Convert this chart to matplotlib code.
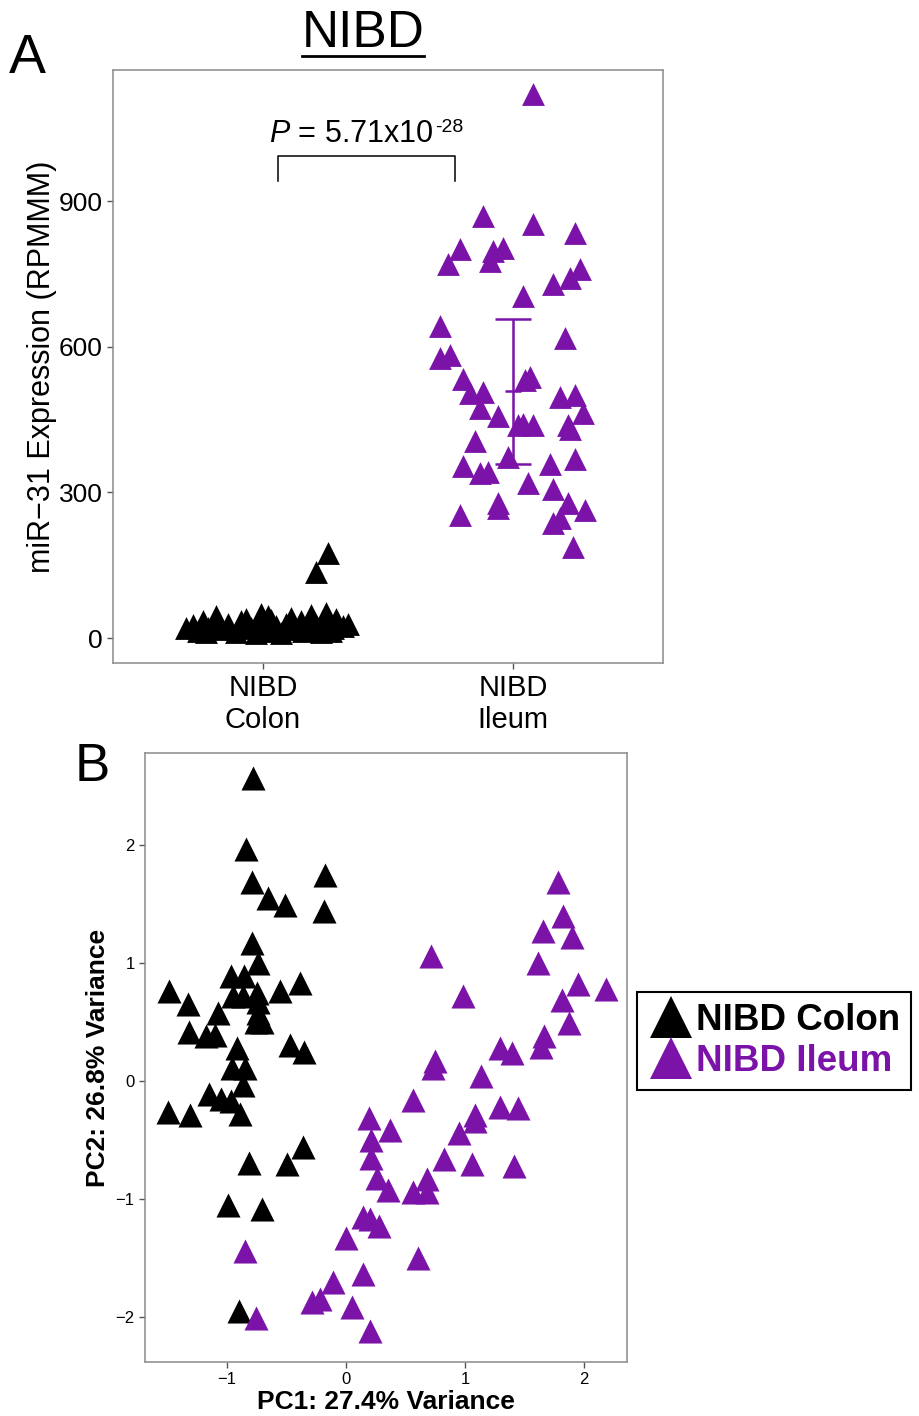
import numpy as np
import matplotlib
matplotlib.use('Agg')
import matplotlib.pyplot as plt
from matplotlib.lines import Line2D

plt.rcParams['font.family'] = ['Liberation Sans', 'DejaVu Sans']
plt.rcParams['mathtext.fontset'] = 'custom'
plt.rcParams['mathtext.rm'] = 'Liberation Sans'
plt.rcParams['mathtext.it'] = 'Liberation Sans:italic'

purple = '#7B13A9'

# Panel A: miR-31 expression per tissue (RPMMM)
groups = ['NIBD\nColon', 'NIBD\nIleum']
colon_jitter = [-0.31, -0.28, -0.26, -0.24, -0.22, -0.19, -0.17, -0.14, -0.11, -0.09,
                -0.07, -0.05, -0.02, 0.01, 0.03, 0.05, 0.07, 0.09, 0.11, 0.13,
                0.15, 0.17, 0.19, 0.21, 0.23, 0.25, 0.26, 0.28, 0.29, 0.32,
                0.34, -0.03, 0.02, 0.16, -0.09, -0.18, 0.10, 0.20, 0.27, -0.23,
                -0.01, 0.24, 0.21, 0.26]
colon_vals = [20, 28, 15, 35, 22, 45, 18, 30, 12, 25,
              40, 20, 33, 15, 38, 25, 10, 30, 42, 18,
              35, 22, 48, 28, 12, 52, 30, 20, 40, 25,
              30, 10, 45, 15, 35, 26, 22, 38, 15, 12,
              50, 35, 136, 175]
ileum_jitter = [0.08, -0.12, 0.08, 0.25, -0.21, -0.26, -0.08, -0.04, -0.09, 0.16,
                0.23, 0.27, 0.04, -0.29, 0.21, -0.29, -0.25, -0.20, -0.17, -0.12,
                -0.13, -0.06, 0.05, 0.07, 0.19, 0.25, 0.28, 0.22, 0.23, 0.02,
                0.04, 0.08, -0.15, -0.02, -0.20, -0.13, -0.10, 0.15, 0.25, 0.06,
                0.16, 0.22, 0.29, -0.06, -0.06, -0.21, 0.16, 0.19, 0.24]
ileum_vals = [1120, 869, 853, 834, 801, 770, 797, 803, 777, 730,
              742, 760, 705, 643, 618, 577, 583, 534, 505, 507,
              473, 458, 532, 538, 497, 501, 464, 438, 431, 438,
              442, 438, 405, 374, 355, 341, 343, 359, 368, 320,
              308, 279, 263, 279, 269, 253, 238, 247, 187]
ileum_mean = 508
ileum_sd = 150
bracket_x = [1.06, 1.77]
bracket_y = [941, 993]

# Panel B: PCA scores
colon_pc1 = [-0.78, -0.84, -0.18, -0.79, -0.66, -0.51, -0.19, -0.79, -0.74, -0.97,
             -0.86, -0.39, -1.49, -1.33, -0.95, -0.87, -0.75, -0.56, -0.74, -0.74,
             -1.08, -1.32, -1.18, -1.10, -0.76, -0.71, -0.92, -0.47, -0.35, -0.96,
             -0.85, -0.87, -1.15, -1.05, -0.97, -1.50, -1.31, -0.89, -0.36, -0.82,
             -0.50, -0.99, -0.71, -0.90]
colon_pc2 = [2.57, 1.97, 1.75, 1.69, 1.55, 1.49, 1.44, 1.17, 1.00, 0.89,
             0.89, 0.83, 0.76, 0.65, 0.72, 0.72, 0.75, 0.76, 0.67, 0.58,
             0.58, 0.42, 0.38, 0.39, 0.50, 0.50, 0.28, 0.31, 0.25, 0.11,
             0.11, -0.03, -0.11, -0.15, -0.17, -0.26, -0.29, -0.28, -0.56, -0.69,
             -0.70, -1.05, -1.08, -1.95]
ileum_pc1 = [-0.85, -0.76, 0.19, 0.37, 0.21, 0.21, 0.26, 0.35, 0.14, 0.20,
             0.28, 0.00, 0.14, -0.11, -0.29, -0.22, 0.05, 0.20, 1.78, 1.82,
             1.65, 1.90, 0.71, 1.61, 1.95, 2.18, 1.81, 0.98, 1.87, 1.66,
             1.64, 1.29, 1.39, 0.75, 0.73, 1.13, 0.56, 1.29, 1.44, 1.08,
             1.08, 0.95, 0.82, 1.06, 1.41, 0.56, 0.68, 0.68, 0.60]
ileum_pc2 = [-1.44, -2.01, -0.31, -0.41, -0.50, -0.65, -0.82, -0.92, -1.15, -1.17,
             -1.23, -1.33, -1.63, -1.70, -1.87, -1.85, -1.91, -2.12, 1.69, 1.40,
             1.27, 1.22, 1.06, 1.00, 0.82, 0.78, 0.69, 0.72, 0.49, 0.38,
             0.29, 0.28, 0.24, 0.17, 0.11, 0.04, -0.16, -0.22, -0.23, -0.29,
             -0.34, -0.44, -0.66, -0.70, -0.72, -0.94, -0.83, -0.94, -1.50]

fig = plt.figure(figsize=(9.19, 14.16), dpi=100)

# ---------- panel A ----------
axA = fig.add_axes([0.123, 0.5318, 0.5984, 0.4188])
axA.scatter(1 + np.array(colon_jitter), colon_vals, marker='^', s=270,
            color='black', linewidths=0, zorder=3)
axA.scatter(2 + np.array(ileum_jitter), ileum_vals, marker='^', s=270,
            color=purple, linewidths=0, zorder=3)
axA.errorbar(2, ileum_mean, yerr=ileum_sd, color=purple, capsize=13,
             capthick=1.8, elinewidth=1.8, zorder=4)
axA.plot(2, ileum_mean, marker='_', ms=12, mew=1.8, color=purple, zorder=4)

axA.plot([bracket_x[0], bracket_x[0], bracket_x[1], bracket_x[1]],
         [bracket_y[0], bracket_y[1], bracket_y[1], bracket_y[0]],
         color='black', lw=1.1)
ptxt = axA.text(np.mean(bracket_x) - 0.06, bracket_y[1] + 14, r'$P$ = 5.71x10',
                ha='center', va='bottom', fontsize=22)

axA.set_xlim(0.4, 2.6)
axA.set_ylim(-51, 1170)
axA.set_xticks([1, 2])
axA.set_xticklabels(groups, fontsize=21)
axA.set_yticks([0, 300, 600, 900])
axA.tick_params(axis='both', labelsize=19, length=4, color='#555555', width=1)
axA.tick_params(axis='x', labelsize=21, pad=4)
axA.set_ylabel('miR\u221231 Expression (RPMMM)', fontsize=22, labelpad=1)
for sp in axA.spines.values():
    sp.set_color('#8a8a8a')
    sp.set_linewidth(1.1)

t = fig.text(0.395, 0.976, 'NIBD', fontsize=37, ha='center', va='center')
fig.text(0.03, 0.958, 'A', fontsize=40, ha='center', va='center')
fig.text(0.1, 0.458, 'B', fontsize=38, ha='center', va='center')

# underline the title and attach the superscript, using rendered extents
fig.canvas.draw()
inv = fig.transFigure.inverted()
bb = t.get_window_extent().transformed(inv)
fig.add_artist(Line2D([bb.x0, bb.x1], [bb.y0 + 0.002, bb.y0 + 0.002],
                      color='black', lw=2, transform=fig.transFigure))
pb = ptxt.get_window_extent().transformed(inv)
fig.text(pb.x1 + 0.001, pb.y1 - 0.012, '-28', fontsize=14, ha='left', va='bottom')

# ---------- panel B ----------
axB = fig.add_axes([0.1578, 0.0381, 0.5245, 0.4301])
axB.scatter(colon_pc1, colon_pc2, marker='^', s=300, color='black',
            linewidths=0, zorder=3, label='NIBD Colon')
axB.scatter(ileum_pc1, ileum_pc2, marker='^', s=300, color=purple,
            linewidths=0, zorder=3, label='NIBD Ileum')
axB.set_xlim(-1.69, 2.36)
axB.set_ylim(-2.38, 2.78)
axB.set_xticks([-1, 0, 1, 2])
axB.set_yticks([-2, -1, 0, 1, 2])
axB.tick_params(axis='both', labelsize=12, length=4, color='#555555', width=1)
axB.set_xlabel('PC1: 27.4% Variance', fontsize=19, fontweight='bold', labelpad=2)
axB.set_ylabel('PC2: 26.8% Variance', fontsize=19, fontweight='bold', labelpad=4)
for sp in axB.spines.values():
    sp.set_color('#8a8a8a')
    sp.set_linewidth(1.1)

leg = fig.legend(handles=[
    Line2D([], [], marker='^', ls='', ms=30, color='black', mew=0),
    Line2D([], [], marker='^', ls='', ms=30, color=purple, mew=0)],
    labels=['NIBD Colon', 'NIBD Ileum'],
    loc='center left', bbox_to_anchor=(0.693, 0.265),
    prop={'size': 26.5, 'weight': 'bold'}, fancybox=False, edgecolor='black',
    framealpha=1, handletextpad=0.05, handlelength=1.25, borderpad=0.3,
    labelspacing=0.15, borderaxespad=0)
leg.get_frame().set_linewidth(1.5)
leg.get_texts()[1].set_color(purple)

fig.savefig('out.png', dpi=100)
